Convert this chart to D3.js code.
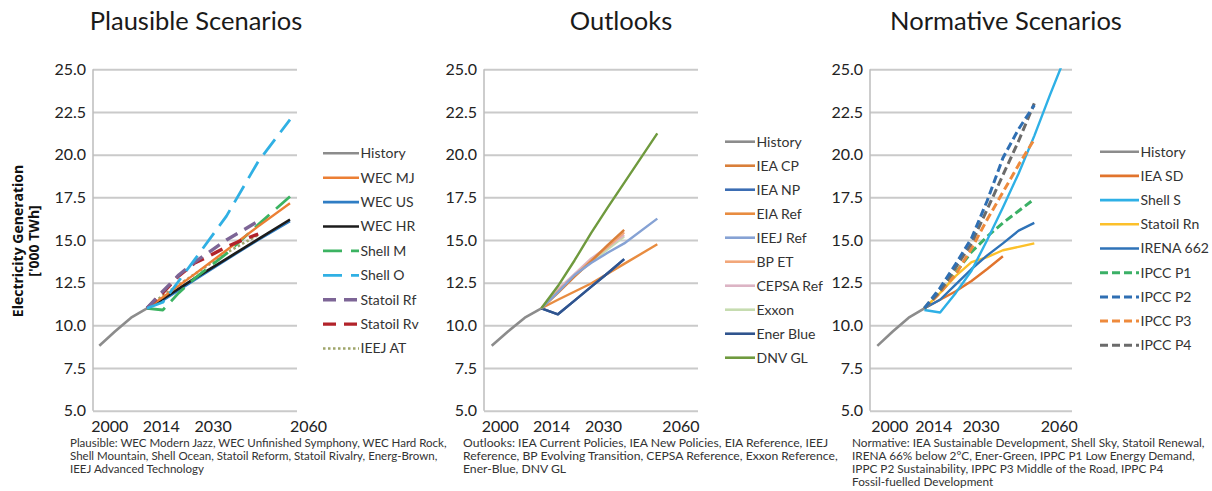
<!DOCTYPE html>
<html><head><meta charset="utf-8">
<script src="https://cdn.jsdelivr.net/npm/d3@7"></script>
<style>
html,body{margin:0;padding:0;background:#fff;}
svg{display:block;}
</style></head><body>
<svg id="chart" width="1212" height="491"></svg>
<script>
// ---------------- DATA ----------------
const yTicks = [5.0, 7.5, 10.0, 12.5, 15.0, 17.5, 20.0, 22.5, 25.0];
const xTickYears = [2000, 2014, 2030, 2060];

const historyYears = [2000, 2005, 2010, 2015];
const historyValues = [8.8, 9.65, 10.45, 11.0];

// Plausible scenarios
const wecYears = [2015, 2020, 2030, 2040, 2050, 2060];
const wecMJ = [11.0, 11.65, 13.0, 14.4, 15.8, 17.15];
const wecUS = [11.0, 11.45, 12.65, 13.85, 15.0, 16.1];
const wecHR = [11.0, 11.55, 12.75, 13.9, 15.05, 16.2];
const shellYears = [2015, 2020, 2025, 2030, 2040, 2050, 2060];
const shellM = [11.0, 10.9, 11.9, 12.75, 14.2, 15.9, 17.55];
const shellO = [11.0, 11.35, 12.6, 13.85, 16.4, 19.6, 22.05];
const statoilYears = [2015, 2020, 2025, 2030, 2035, 2040, 2045, 2050];
const statoilRf = [11.0, 12.0, 12.95, 13.7, 14.35, 15.0, 15.55, 16.1];
const statoilRv = [11.0, 11.9, 12.9, 13.65, 14.1, 14.6, 15.0, 15.35];
const ieejATYears = [2015, 2020, 2030, 2040, 2050];
const ieejAT = [11.0, 11.75, 13.0, 14.25, 15.3];

// Outlooks
const outlook2040Years = [2015, 2020, 2025, 2030, 2035, 2040];
const ieaCP = [11.0, 11.9, 12.85, 13.75, 14.7, 15.6];
const ieaNP = [11.0, 10.65, 11.45, 12.25, 13.05, 13.88];
const bpET = [11.0, 12.0, 12.9, 13.8, 14.6, 15.45];
const cepsaRef = [11.0, 12.1, 13.0, 13.9, 14.6, 15.3];
const exxon = [11.0, 12.0, 12.9, 13.7, 14.45, 15.2];
const enerBlue = [11.0, 10.65, 11.45, 12.25, 13.05, 13.88];
const eiaRefYears = [2015, 2020, 2030, 2040, 2050];
const eiaRef = [11.0, 11.5, 12.45, 13.6, 14.75];
const ieejRefYears = [2015, 2020, 2025, 2030, 2035, 2040, 2050];
const ieejRef = [11.0, 11.95, 12.95, 13.65, 14.25, 14.8, 16.25];
const dnvYears = [2015, 2020, 2025, 2030, 2035, 2040, 2045, 2050];
const dnvGL = [11.0, 12.3, 13.8, 15.4, 16.9, 18.35, 19.8, 21.25];

// Normative scenarios
const ieaSDYears = [2015, 2020, 2025, 2030, 2035, 2040];
const ieaSD = [11.0, 11.5, 12.0, 12.6, 13.3, 14.05];
const shellSYears = [2015, 2020, 2025, 2030, 2035, 2040, 2045, 2050, 2055, 2060];
const shellS = [10.9, 10.75, 11.9, 13.2, 15.0, 16.9, 18.9, 21.1, 23.5, 25.8];
const normYears = [2015, 2020, 2025, 2030, 2035, 2040, 2045, 2050];
const statoilRn = [11.0, 11.9, 12.9, 13.7, 14.0, 14.4, 14.6, 14.8];
const irena662 = [11.0, 11.5, 12.4, 13.3, 14.1, 14.8, 15.55, 16.0];
const ipccP1 = [11.0, 12.0, 13.1, 14.3, 15.2, 16.0, 16.7, 17.4];
const ipccP2 = [11.0, 12.2, 13.6, 15.1, 17.3, 19.8, 21.5, 22.9];
const ipccP3 = [11.0, 11.9, 13.0, 14.5, 16.2, 17.8, 19.4, 20.9];
const ipccP4 = [11.0, 12.0, 13.4, 14.8, 16.8, 18.8, 20.8, 23.0];

const plausibleNames = ["History","WEC MJ","WEC US","WEC HR","Shell M","Shell O","Statoil Rf","Statoil Rv","IEEJ AT"];
const outlookNames = ["History","IEA CP","IEA NP","EIA Ref","IEEJ Ref","BP ET","CEPSA Ref","Exxon","Ener Blue","DNV GL"];
const normativeNames = ["History","IEA SD","Shell S","Statoil Rn","IRENA 662","IPCC P1","IPCC P2","IPCC P3","IPCC P4"];

const titles = ["Plausible Scenarios", "Outlooks", "Normative Scenarios"];
const footnotes = [
  ["Plausible: WEC Modern Jazz, WEC Unfinished Symphony, WEC Hard Rock,",
   "Shell Mountain, Shell Ocean, Statoil Reform, Statoil Rivalry, Energ-Brown,",
   "IEEJ Advanced Technology"],
  ["Outlooks: IEA Current Policies, IEA New Policies, EIA Reference, IEEJ",
   "Reference, BP Evolving Transition, CEPSA Reference, Exxon Reference,",
   "Ener-Blue, DNV GL"],
  ["Normative: IEA Sustainable Development, Shell Sky, Statoil Renewal,",
   "IRENA 66% below 2°C, Ener-Green, IPPC P1 Low Energy Demand,",
   "IPPC P2 Sustainability, IPPC P3 Middle of the Road, IPPC P4",
   "Fossil-fuelled Development"]
];
const yTitle = ["Electricity Generation", "['000 TWh]"];

// series table built from the arrays
const series = {
  "plausible": {
    "History": [historyYears, historyValues], "WEC MJ": [wecYears, wecMJ], "WEC US": [wecYears, wecUS],
    "WEC HR": [wecYears, wecHR], "Shell M": [shellYears, shellM], "Shell O": [shellYears, shellO],
    "Statoil Rf": [statoilYears, statoilRf], "Statoil Rv": [statoilYears, statoilRv], "IEEJ AT": [ieejATYears, ieejAT]
  },
  "outlook": {
    "History": [historyYears, historyValues], "IEA CP": [outlook2040Years, ieaCP], "IEA NP": [outlook2040Years, ieaNP],
    "EIA Ref": [eiaRefYears, eiaRef], "IEEJ Ref": [ieejRefYears, ieejRef], "BP ET": [outlook2040Years, bpET],
    "CEPSA Ref": [outlook2040Years, cepsaRef], "Exxon": [outlook2040Years, exxon], "Ener Blue": [outlook2040Years, enerBlue],
    "DNV GL": [dnvYears, dnvGL]
  },
  "normative": {
    "History": [historyYears, historyValues], "IEA SD": [ieaSDYears, ieaSD], "Shell S": [shellSYears, shellS],
    "Statoil Rn": [normYears, statoilRn], "IRENA 662": [normYears, irena662], "IPCC P1": [normYears, ipccP1],
    "IPCC P2": [normYears, ipccP2], "IPCC P3": [normYears, ipccP3], "IPCC P4": [normYears, ipccP4]
  }
};

// ---------------- STYLES ----------------
const styles = {
  plausible: {
    "History": {c:"#8c8c8c", w:2.6}, "WEC MJ": {c:"#ec7f34", w:2.4}, "WEC US": {c:"#2f7dc4", w:2.4},
    "WEC HR": {c:"#1c1c1c", w:2.6}, "Shell M": {c:"#3cb362", w:2.8, d:"19,9"}, "Shell O": {c:"#30b0e4", w:2.8, d:"19,9"},
    "Statoil Rf": {c:"#7d6596", w:3.4, d:"13,8"}, "Statoil Rv": {c:"#b2232a", w:3.4, d:"13,8"},
    "IEEJ AT": {c:"#9fa56a", w:2.6, d:"2.5,2.5"}
  },
  outlook: {
    "History": {c:"#8c8c8c", w:2.6}, "IEA CP": {c:"#d97f3a", w:2.4}, "IEA NP": {c:"#3b6db3", w:2.4},
    "EIA Ref": {c:"#e88c40", w:2.4}, "IEEJ Ref": {c:"#86a2d4", w:2.4}, "BP ET": {c:"#f2a77a", w:2.6},
    "CEPSA Ref": {c:"#dcb4c4", w:2.6}, "Exxon": {c:"#c6dcb0", w:2.4}, "Ener Blue": {c:"#30548e", w:2.4},
    "DNV GL": {c:"#6f9a3e", w:2.4}
  },
  normative: {
    "History": {c:"#8c8c8c", w:2.6}, "IEA SD": {c:"#e1742d", w:2.4}, "Shell S": {c:"#2eb0e6", w:2.4},
    "Statoil Rn": {c:"#fcc02a", w:2.4}, "IRENA 662": {c:"#2f73b8", w:2.4}, "IPCC P1": {c:"#3bb066", w:3, d:"8,4"},
    "IPCC P2": {c:"#2f6fb3", w:3, d:"8,4"}, "IPCC P3": {c:"#ee8a3c", w:3, d:"8,4"}, "IPCC P4": {c:"#6b6b6b", w:3, d:"8,4"}
  }
};
const drawOrder = {
  plausible: ["History","WEC US","WEC HR","IEEJ AT","Shell M","WEC MJ","Statoil Rv","Statoil Rf","Shell O"],
  outlook: ["History","EIA Ref","IEA NP","Ener Blue","Exxon","CEPSA Ref","BP ET","IEA CP","IEEJ Ref","DNV GL"],
  normative: ["History","IEA SD","Statoil Rn","IRENA 662","IPCC P1","Shell S","IPCC P3","IPCC P4","IPCC P2"]
};

// ---------------- LAYOUT ----------------
const FONT = "Lato, 'Open Sans', sans-serif";
const panels = [
  {key:"plausible", names: plausibleNames, axisX:93, gridEnd:297, xr:[99.3, 290], xd:[2000, 2060],
   tickShift:[10, 17, 18, 18], titleX:196, legX:323, legLen:36, legY:153.3, legStep:24.4, footX:70, footW:377, footRef:0},
  {key:"outlook", names: outlookNames, axisX:484, gridEnd:698, xr:[491.7, 657.3], xd:[2000, 2050],
   tickShift:[8, 13, 12, -10], titleX:621, legX:725, legLen:30, legY:141.7, legStep:24, footX:463, footW:375, footRef:1},
  {key:"normative", names: normativeNames, axisX:870, gridEnd:1072, xr:[877.3, 1034.3], xd:[2000, 2050],
   tickShift:[12, 12, 9, -7], titleX:1006, legX:1100, legLen:39, legY:151.7, legStep:24.2, footX:852, footW:353, footRef:0}
];
const yTop = 69.3, yBot = 410.7;

const svg = d3.select("#chart");
const y = d3.scaleLinear().domain([5, 25]).range([yBot, yTop]);

panels.forEach((p, pi) => {
  const g = svg.append("g");
  const x = d3.scaleLinear().domain(p.xd).range(p.xr);

  // gridlines
  g.append("g").attr("transform", `translate(${p.axisX},0)`)
    .call(d3.axisLeft(y).tickValues(yTicks).tickSize(-(p.gridEnd - p.axisX)).tickFormat(""))
    .call(s => s.select(".domain").remove())
    .call(s => s.selectAll("line").attr("stroke", "#cacaca").attr("stroke-width", 2));

  // y labels
  g.append("g").attr("transform", `translate(${p.axisX},0)`)
    .call(d3.axisLeft(y).tickValues(yTicks).tickSize(0).tickPadding(7).tickFormat(d3.format(".1f")))
    .call(s => s.select(".domain").remove())
    .call(s => s.selectAll("text").attr("font-family", FONT).attr("font-size", 16).attr("fill", "#222"));

  // y axis line
  g.append("line").attr("x1", p.axisX).attr("x2", p.axisX).attr("y1", y(25)).attr("y2", y(5))
    .attr("stroke", "#bdbdbd").attr("stroke-width", 1.5);

  // x labels
  const xa = g.append("g").attr("transform", `translate(0,${yBot})`)
    .call(d3.axisBottom(x).tickValues(xTickYears).tickSize(0).tickPadding(10).tickFormat(d3.format("d")));
  xa.select(".domain").remove();
  xa.selectAll("text").attr("font-family", FONT).attr("font-size", 16).attr("fill", "#222")
    .attr("dx", (d, j) => p.tickShift[j]);

  // title
  g.append("text").attr("x", p.titleX).attr("y", 30).attr("text-anchor", "middle")
    .attr("font-family", FONT).attr("font-size", 25.5).attr("fill", "#1a1a1a").text(titles[pi]);

  // clip
  const clipId = "clip" + pi;
  svg.append("clipPath").attr("id", clipId).append("rect")
    .attr("x", p.axisX).attr("y", yTop - 1).attr("width", p.gridEnd - p.axisX).attr("height", yBot - yTop + 2);

  const line = d3.line().x(d => x(d[0])).y(d => y(d[1]));
  const lg = g.append("g").attr("clip-path", `url(#${clipId})`);
  drawOrder[p.key].forEach(name => {
    const [yrs, vals] = series[p.key][name];
    const st = styles[p.key][name];
    lg.append("path").datum(yrs.map((yr, k) => [yr, vals[k]]))
      .attr("d", line).attr("fill", "none").attr("stroke", st.c).attr("stroke-width", st.w)
      .attr("stroke-dasharray", st.d || null).attr("stroke-linejoin", "round");
  });

  // legend
  const leg = g.append("g");
  p.names.forEach((name, k) => {
    const st = styles[p.key][name];
    const ly = p.legY + k * p.legStep;
    leg.append("line").attr("x1", p.legX).attr("x2", p.legX + p.legLen).attr("y1", ly).attr("y2", ly)
      .attr("stroke", st.c).attr("stroke-width", Math.max(st.w, 2.6)).attr("stroke-dasharray", st.d || null);
    leg.append("text").attr("x", p.legX + p.legLen + 1.5).attr("y", ly).attr("dy", "0.35em")
      .attr("font-family", FONT).attr("font-size", 14).attr("fill", "#333").text(name);
  });

  // footnote
  const fg = g.append("g");
  const texts = footnotes[pi].map((t, k) => fg.append("text").attr("x", 0).attr("y", 447 + k * 13)
      .attr("font-family", FONT).attr("font-size", 12).attr("fill", "#333").text(t));
  const w = texts[p.footRef].node().getComputedTextLength();
  const sx = p.footW / w;
  fg.attr("transform", `translate(${p.footX},0) scale(${sx},1)`);
});

// y axis title
const yt = svg.append("g");
yTitle.forEach((t, k) => {
  yt.append("text").attr("transform", `translate(${18 + k * 16},241) rotate(-90)`)
    .attr("text-anchor", "middle").attr("dy", "0.35em")
    .attr("font-family", "'Open Sans', sans-serif").attr("font-weight", 700).attr("font-size", 14)
    .attr("fill", "#111").text(t);
});
</script></body></html>
